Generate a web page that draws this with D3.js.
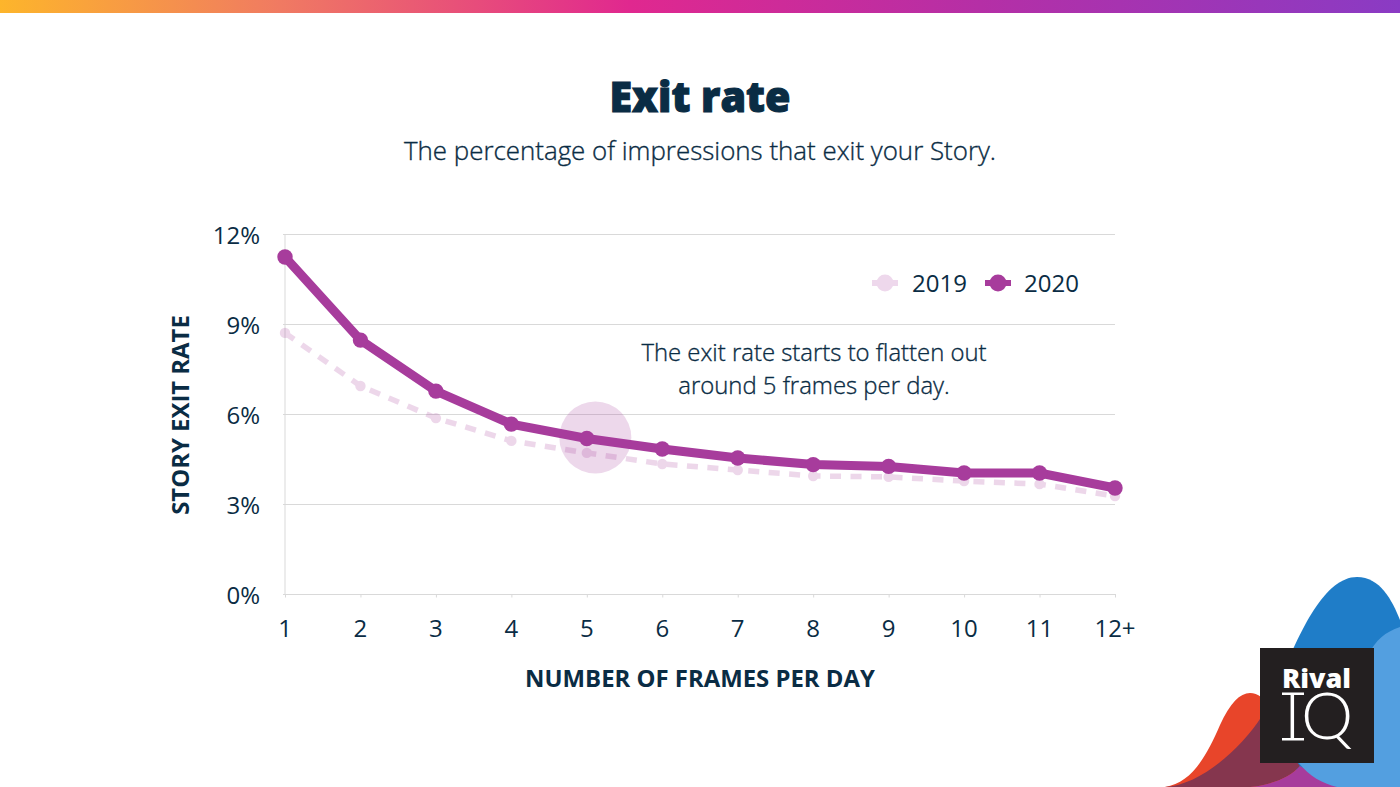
<!DOCTYPE html>
<html><head><meta charset="utf-8">
<script src="https://cdn.jsdelivr.net/npm/d3@7/dist/d3.min.js"></script>
<style>html,body{margin:0;padding:0;background:#fff}svg{display:block}text{font-family:"Open Sans",sans-serif;fill:#0a2c44}</style>
</head><body><svg id="c" width="1400" height="787"></svg>
<script>
const frames=["1","2","3","4","5","6","7","8","9","10","11","12+"];
const values2019=[8.72,6.95,5.88,5.12,4.72,4.35,4.15,3.95,3.92,3.78,3.68,3.28];
const values2020=[11.25,8.48,6.78,5.68,5.2,4.85,4.55,4.33,4.27,4.05,4.05,3.55];
const yTicks=[0,3,6,9,12];
const title="Exit rate";
const subtitle="The percentage of impressions that exit your Story.";
const note=["The exit rate starts to flatten out","around 5 frames per day."];
const svg=d3.select("#c");
const defs=svg.append("defs");
const g=defs.append("linearGradient").attr("id","top");
[[0,"#fdb52b"],[.2,"#f07a62"],[.45,"#e0288f"],[.7,"#b52fa6"],[1,"#8a3bc4"]].forEach(s=>g.append("stop").attr("offset",s[0]).attr("stop-color",s[1]));
svg.append("rect").attr("width",1400).attr("height",13).attr("fill","url(#top)");
svg.append("text").attr("x",700).attr("y",111.5).attr("text-anchor","middle").attr("font-size",43).attr("font-weight",800).attr("textLength",181).attr("lengthAdjust","spacingAndGlyphs").style("stroke","#0a2c44").style("stroke-width",1.1).text(title);
svg.append("text").attr("x",700).attr("y",160).attr("text-anchor","middle").attr("font-size",25.9).attr("font-weight",300).style("stroke","#0a2c44").style("stroke-width",.35).text(subtitle);
const x=d3.scalePoint().domain(frames).range([285,1115]);
const y=d3.scaleLinear().domain([0,12]).range([594.5,234.5]);
svg.append("g").selectAll("line").data(yTicks).join("line").attr("x1",283).attr("x2",d=>d===0?1116:1115).attr("y1",d=>y(d)).attr("y2",d=>y(d)).attr("stroke","#d9d9d9").attr("stroke-width",1);
svg.append("line").attr("x1",285).attr("x2",285).attr("y1",y(12)).attr("y2",y(0)).attr("stroke","#d9d9d9");
svg.append("g").selectAll("line").data(frames).join("line").attr("x1",d=>x(d)+.5).attr("x2",d=>x(d)+.5).attr("y1",y(0)).attr("y2",y(0)+3).attr("stroke","#d9d9d9");
svg.append("g").selectAll("text").data(yTicks).join("text").attr("x",260).attr("text-anchor","end").attr("y",d=>y(d)+9).attr("font-size",24).text(d=>d+"%");
svg.append("g").selectAll("text").data(frames).join("text").attr("x",d=>x(d)).attr("y",637).attr("text-anchor","middle").attr("font-size",24).text(d=>d);
svg.append("text").attr("x",700).attr("y",687).attr("text-anchor","middle").attr("font-size",23.9).attr("font-weight",700).text("NUMBER OF FRAMES PER DAY");
svg.append("text").attr("transform","translate(189,415) rotate(-90)").attr("text-anchor","middle").attr("font-size",23.9).attr("font-weight",700).text("STORY EXIT RATE");
svg.append("circle").attr("cx",x("5")+8.5).attr("cy",y(5.2)-1).attr("r",36).attr("fill","#a73c9c").attr("opacity",.2);
const line=d3.line().x((d,i)=>x(frames[i])).y(d=>y(d));
const s19=svg.append("g").attr("opacity",.2);
s19.append("path").attr("d",line(values2019)).attr("fill","none").attr("stroke","#a73c9c").attr("stroke-width",5.5).attr("stroke-dasharray","11 9.5");
s19.append("g").selectAll("circle").data(values2019).join("circle").attr("cx",(d,i)=>x(frames[i])).attr("cy",d=>y(d)).attr("r",5.2).attr("fill","#a73c9c");
svg.append("path").attr("d",line(values2020)).attr("fill","none").attr("stroke","#a73c9c").attr("stroke-width",9);
svg.append("g").selectAll("circle").data(values2020).join("circle").attr("cx",(d,i)=>x(frames[i])).attr("cy",d=>y(d)).attr("r",7.7).attr("fill","#a73c9c");
[["2019","#eed8ec",872,912],["2020","#a73c9c",985,1024]].forEach(l=>{
 svg.append("rect").attr("x",l[2]).attr("y",280).attr("width",26).attr("height",6).attr("fill",l[1]);
 svg.append("circle").attr("cx",l[2]+13).attr("cy",283).attr("r",8.5).attr("fill",l[1]);
 svg.append("text").attr("x",l[3]).attr("y",291.5).attr("font-size",24).text(l[0]);
});
note.forEach((t,i)=>svg.append("text").attr("x",814).attr("y",361+i*33).attr("text-anchor","middle").attr("font-size",23.9).attr("font-weight",300).style("stroke","#0a2c44").style("stroke-width",.35).text(t));
// corner artwork
svg.append("path").attr("d","M1280 680C1300 630 1325 577 1357 577C1380 577 1392 600 1400 620L1400 787L1280 787Z").attr("fill","#1f7dc8");
svg.append("path").attr("d","M1165 787C1190 783 1205 760 1220 725C1230 703 1240 693 1250 693C1262 693 1270 705 1285 725L1300 787Z").attr("fill","#e8452a");
svg.append("path").attr("d","M1165 787C1200 785 1240 750 1262 716L1300 766C1290 778 1270 785 1250 787Z").attr("fill","#85364e");
svg.append("path").attr("d","M1250 787C1270 785 1290 778 1300 766L1337 787Z").attr("fill","#a73c9c");
svg.append("path").attr("d","M1400 627C1385 632 1376 640 1368 655L1368 700L1298 762C1310 777 1322 783 1337 787L1400 787Z").attr("fill","#539fe0");
svg.append("rect").attr("x",1260).attr("y",648).attr("width",114).attr("height",115).attr("fill","#231f20");
const logo=svg.append("text").attr("text-anchor","middle").style("fill","#fff");
logo.append("tspan").attr("x",1316.5).attr("y",688).attr("font-size",27).attr("font-weight",800).text("Rival");
logo.append("tspan").attr("x",1318.5).attr("y",739).attr("font-size",66).attr("font-weight",300).style("font-family","Lato").text("IQ");
svg.append("g").selectAll("rect").data([693.5,739]).join("rect").attr("x",1282).attr("y",d=>d-1).attr("width",22).attr("height",2.5).attr("fill","#fff");
</script></body></html>
